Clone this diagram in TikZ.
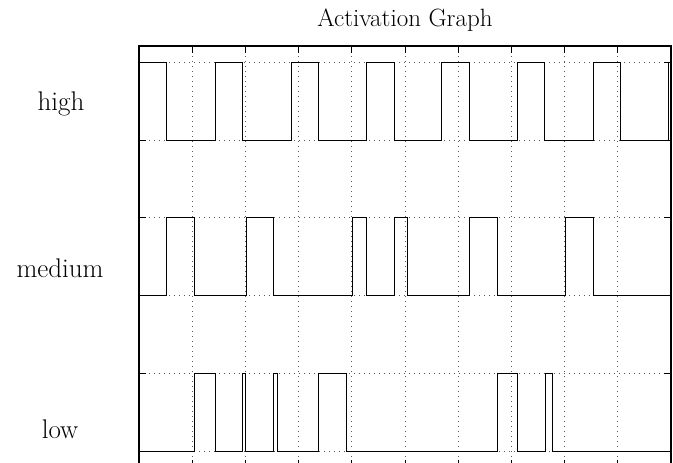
\documentclass[tikz,border=0pt]{standalone}
\begin{document}
\begin{tikzpicture}[x={(1pt,0pt)},y={(0pt,-1pt)},
  gridline/.style={line width=0.7pt, draw=black!65, dash pattern=on 0.8pt off 4.2pt},
  sig/.style={line width=0.9pt, draw=black, line join=miter},
  axisline/.style={line width=1.1pt, draw=black},
  tick/.style={line width=0.9pt, draw=black},
  lab/.style={font=\fontsize{27}{30}\selectfont, anchor=base, inner sep=0pt},
  ttl/.style={font=\fontsize{25}{28}\selectfont, anchor=base, inner sep=0pt}]
\useasboundingbox (0,0) rectangle (673,463);
% grid
\foreach \k in {1,...,9} {
  \draw[gridline] ({139+53.2*\k},46) -- ({139+53.2*\k},467);
}
\foreach \yy in {62.3,140,217.7,295.7,373.3,451} {
  \draw[gridline] (139,\yy) -- (671,\yy);
}
% ticks
\foreach \k in {1,...,9} {
  \draw[tick] ({139+53.2*\k},46) -- ({139+53.2*\k},53);
  \draw[tick] ({139+53.2*\k},467) -- ({139+53.2*\k},460);
}
\foreach \yy in {62.3,140,217.7,295.7,373.3,451} {
  \draw[tick] (139,\yy) -- (146,\yy);
  \draw[tick] (671,\yy) -- (664,\yy);
}
% signals
\draw[sig] (139,62.3) -| (166.7,140) -| (215,62.3) -| (242.3,140) -| (291,62.3) -| (318.3,140) -| (366.7,62.3) -| (394,140) -| (441.7,62.3) -| (469.3,140) -| (517.3,62.3) -| (544.7,140) -| (593,62.3) -| (620.3,140) -| (668.7,62.3) -- (671,62.3);
\draw[sig] (139,295.7) -| (166.7,217.7) -| (194.3,295.7) -| (246,217.7) -| (273.7,295.7) -| (352.3,217.7) -| (366.3,295.7) -| (394,217.7) -| (407.7,295.7) -| (469.3,217.7) -| (497,295.7) -| (565.7,217.7) -| (593,295.7) -- (671,295.7);
\draw[sig] (139,451) -| (194.7,373.3) -| (215,451) -| (242.7,373.3) -| (245,451) -| (273.7,373.3) -| (277.7,451) -| (318.3,373.3) -| (346,451) -| (497,373.3) -| (517.3,451) -| (545,373.3) -| (552.3,451) -- (671,451);
% axes box
\draw[axisline] (139,46) rectangle (671,467);
% texts
\node[ttl] (title) at (405,27) {Activation Graph};
\node[lab] (lhigh) at (61,110) {high};
\node[lab] (lmed) at (60,277) {medium};
\node[lab] (llow) at (60,438) {low};
\end{tikzpicture}
\end{document}
